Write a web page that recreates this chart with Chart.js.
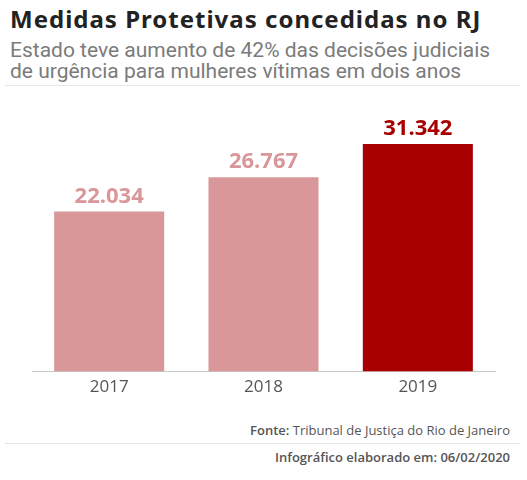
<!DOCTYPE html>
<html>
<head>
<meta charset="utf-8">
<script src="https://cdn.jsdelivr.net/npm/chart.js@4"></script>
<style>
  body { margin: 0; width: 527px; height: 480px; background: #fff; position: relative; overflow: hidden; font-family: "Open Sans", sans-serif; }
  #title { position: absolute; left: 10px; top: 2px; font: 700 24px "Noto Sans", sans-serif; letter-spacing: 1px; color: #222; white-space: nowrap; }
  #subtitle { position: absolute; left: 10px; top: 40px; font: 400 21px Roboto, sans-serif; line-height: 21px; color: #7b7b7b; white-space: nowrap; }
  .rule { position: absolute; left: 5px; width: 515px; height: 1px; background: #e6e6e6; }
  .note { position: absolute; right: 17px; font-size: 13px; color: #555; white-space: nowrap; }
  #wrap { position: absolute; left: 0; top: 90px; width: 527px; height: 320px; }
</style>
</head>
<body>
<div id="title">Medidas Protetivas concedidas no RJ</div>
<div id="subtitle">Estado teve aumento de 42% das decisões judiciais<br>de urgência para mulheres vítimas em dois anos</div>
<div class="rule" style="top:85px"></div>
<div id="wrap"><canvas id="bar-chart"></canvas></div>
<div class="note" style="top:421px"><b style="font-weight:600">Fonte:</b> Tribunal de Justiça do Rio de Janeiro</div>
<div class="rule" style="top:443px"></div>
<div class="note" style="top:448px;font-weight:600">Infográfico elaborado em: 06/02/2020</div>
<script>
  var years = ["2017", "2018", "2019"];
  var medidas = [22034, 26767, 31342];
  var barColors = ["#d9979a", "#d9979a", "#a80000"];

  // numbers above bars, pt-BR format (22.034)
  var valueLabels = {
    id: 'valueLabels',
    afterDatasetsDraw: function(chart) {
      var ctx = chart.ctx;
      var meta = chart.getDatasetMeta(0);
      ctx.save();
      ctx.font = "700 22px 'Open Sans'";
      ctx.textAlign = 'center';
      ctx.textBaseline = 'middle';
      meta.data.forEach(function(bar, i) {
        ctx.fillStyle = barColors[i];
        ctx.fillText(medidas[i].toLocaleString('pt-BR'), bar.x, bar.y - 15);
      });
      ctx.restore();
    }
  };

  new Chart(document.getElementById("bar-chart"), {
    type: 'bar',
    data: {
      labels: years,
      datasets: [{
        label: "Medidas protetivas",
        backgroundColor: barColors,
        data: medidas,
        barPercentage: 0.713,
        categoryPercentage: 1
      }]
    },
    options: {
      responsive: true,
      maintainAspectRatio: false,
      animation: false,
      layout: { padding: { left: 32, right: 32, top: 10, bottom: 8 } },
      plugins: { legend: { display: false }, title: { display: false }, tooltip: { enabled: false } },
      scales: {
        x: {
          grid: { display: false, drawTicks: false },
          border: { display: true, color: '#c8c8c8', width: 1 },
          ticks: { color: '#555', padding: 5, font: { family: 'Open Sans', size: 17 } }
        },
        y: { display: false, min: 0, max: 37400 }
      }
    },
    plugins: [valueLabels]
  });
</script>
</body>
</html>
